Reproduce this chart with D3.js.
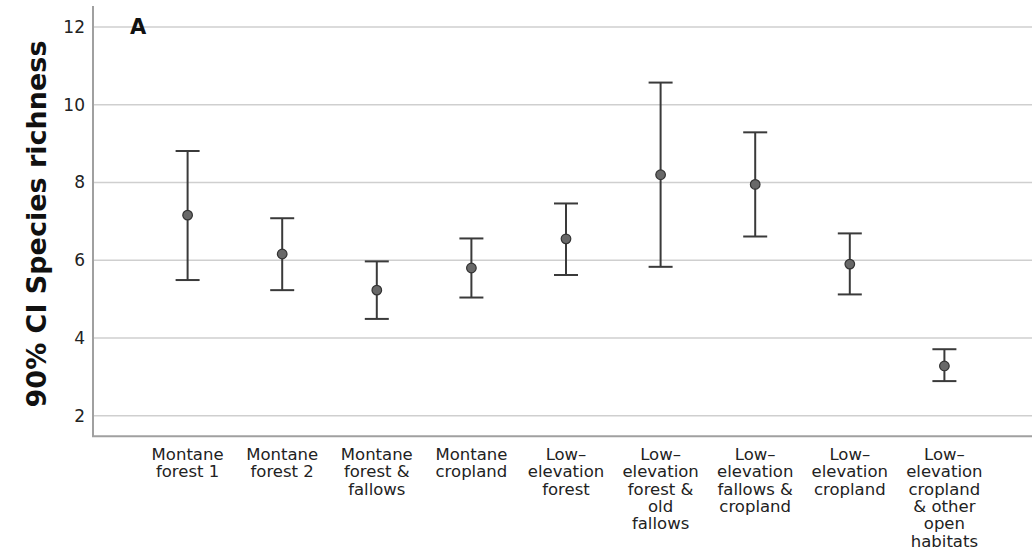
<!DOCTYPE html>
<html>
<head>
<meta charset="utf-8">
<script src="https://cdn.jsdelivr.net/npm/d3@7"></script>
<style>
  html, body { margin: 0; padding: 0; background: #fff; }
  svg { display: block; }
</style>
</head>
<body>
<svg id="chart" width="1032" height="558"></svg>
<script>
// Habitat groups (multi-line labels as drawn under the x axis)
const categories = [
  ["Montane", "forest 1"],
  ["Montane", "forest 2"],
  ["Montane", "forest &", "fallows"],
  ["Montane", "cropland"],
  ["Low–", "elevation", "forest"],
  ["Low–", "elevation", "forest &", "old", "fallows"],
  ["Low–", "elevation", "fallows &", "cropland"],
  ["Low–", "elevation", "cropland"],
  ["Low–", "elevation", "cropland", "& other", "open", "habitats"]
];

// Mean species richness with 90% confidence interval bounds
const means = [7.16, 6.16, 5.23, 5.80, 6.55, 8.20, 7.95, 5.90, 3.28];
const lower = [5.49, 5.23, 4.49, 5.04, 5.62, 5.83, 6.61, 5.12, 2.89];
const upper = [8.81, 7.08, 5.97, 6.56, 7.46, 10.57, 9.29, 6.69, 3.71];

const yTicks = [2, 4, 6, 8, 10, 12];
const yTitle = "90% CI Species richness";
const panelLabel = "A";

const svg = d3.select("#chart");
const plotLeft = 93, plotRight = 1039, plotTop = 6, plotBottom = 436.3;

const keys = categories.map((d, i) => i);
const x = d3.scalePoint().domain(keys).range([plotLeft, plotRight]).padding(1);
const y = d3.scaleLinear().domain([1.47, 12.54]).range([plotBottom, plotTop]);

// Horizontal gridlines
svg.append("g")
  .selectAll("line")
  .data(yTicks)
  .join("line")
  .attr("x1", plotLeft).attr("x2", 1032)
  .attr("y1", d => y(d)).attr("y2", d => y(d))
  .attr("stroke", "#cfcfcf")
  .attr("stroke-width", 1.6);

// Y axis (labels only, no tick marks)
const yAxis = svg.append("g")
  .attr("transform", `translate(${plotLeft},0)`)
  .call(d3.axisLeft(y).tickValues(yTicks).tickSize(0).tickPadding(8).tickFormat(d3.format("d")));
yAxis.select(".domain").remove();
yAxis.selectAll("text")
  .attr("font-family", "DejaVu Sans, sans-serif")
  .attr("font-size", 17)
  .attr("fill", "#222");

// Axis lines
svg.append("line")
  .attr("x1", plotLeft).attr("x2", plotLeft)
  .attr("y1", plotTop).attr("y2", plotBottom)
  .attr("stroke", "#a0a0a0").attr("stroke-width", 2);
svg.append("line")
  .attr("x1", plotLeft - 1).attr("x2", 1032)
  .attr("y1", plotBottom).attr("y2", plotBottom)
  .attr("stroke", "#a0a0a0").attr("stroke-width", 2);

// Category labels
const xLabels = svg.append("g")
  .selectAll("text")
  .data(categories)
  .join("text")
  .attr("text-anchor", "middle")
  .attr("font-family", "DejaVu Sans, sans-serif")
  .attr("font-size", 16.5)
  .attr("fill", "#222");
xLabels.selectAll("tspan")
  .data((d, i) => d.map(line => ({ line, i })))
  .join("tspan")
  .attr("x", d => x(d.i))
  .attr("y", (d, j) => 460 + j * 17.3)
  .text(d => d.line);

// Error bars
const capW = 12;
const bars = svg.append("g")
  .selectAll("g")
  .data(keys)
  .join("g")
  .attr("stroke", "#3a3a3a")
  .attr("stroke-width", 2);
bars.append("line")
  .attr("x1", i => x(i)).attr("x2", i => x(i))
  .attr("y1", i => y(lower[i])).attr("y2", i => y(upper[i]));
bars.append("line")
  .attr("x1", i => x(i) - capW).attr("x2", i => x(i) + capW)
  .attr("y1", i => y(upper[i])).attr("y2", i => y(upper[i]));
bars.append("line")
  .attr("x1", i => x(i) - capW).attr("x2", i => x(i) + capW)
  .attr("y1", i => y(lower[i])).attr("y2", i => y(lower[i]));

// Mean markers
svg.append("g")
  .selectAll("circle")
  .data(keys)
  .join("circle")
  .attr("cx", i => x(i))
  .attr("cy", i => y(means[i]))
  .attr("r", 4.8)
  .attr("fill", "#686868")
  .attr("stroke", "#333")
  .attr("stroke-width", 1.2);

// Y axis title
svg.append("text")
  .attr("transform", "translate(46,224) rotate(-90)")
  .attr("text-anchor", "middle")
  .attr("font-family", "DejaVu Sans, sans-serif")
  .attr("font-weight", "bold")
  .attr("font-size", 27)
  .attr("fill", "#111")
  .text(yTitle);

// Panel letter
svg.append("text")
  .attr("x", 130).attr("y", 34)
  .attr("font-family", "DejaVu Sans, sans-serif")
  .attr("font-weight", "bold")
  .attr("font-size", 21)
  .attr("fill", "#111")
  .text(panelLabel);
</script>
</body>
</html>
